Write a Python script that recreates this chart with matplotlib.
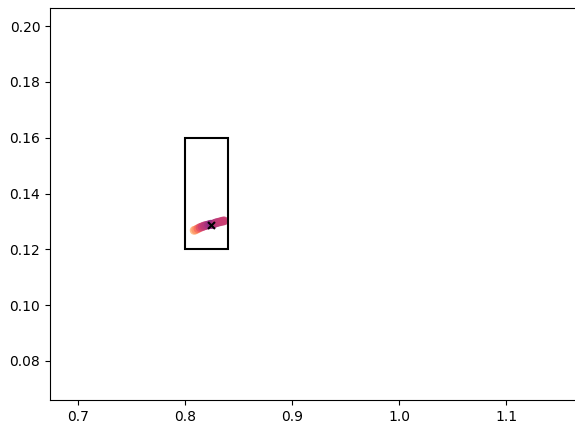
import matplotlib
matplotlib.use("Agg")
import matplotlib.pyplot as plt
from matplotlib.patches import Rectangle

# data points (x, y) and their colour values
pts_x = [0.8085, 0.8100, 0.8120, 0.8140, 0.8160, 0.8180, 0.8200, 0.8220, 0.8240, 0.8255, 0.8270, 0.8290, 0.8310, 0.8330, 0.8350, 0.8365]
pts_y = [0.1268, 0.1270, 0.1274, 0.1278, 0.1281, 0.1284, 0.1286, 0.1288, 0.1290, 0.1289, 0.1292, 0.1295, 0.1297, 0.1299, 0.1301, 0.1302]
pts_c = [0.85, 0.78, 0.70, 0.62, 0.56, 0.52, 0.50, 0.46, 0.42, 0.40, 0.44, 0.50, 0.52, 0.53, 0.54, 0.55]

mean_x = [0.8245]
mean_y = [0.1288]

box_x0, box_y0, box_w, box_h = 0.80, 0.12, 0.04, 0.04

xticks = [0.7, 0.8, 0.9, 1.0, 1.1]
yticks = [0.08, 0.10, 0.12, 0.14, 0.16, 0.18, 0.20]

fig = plt.figure(figsize=(5.75, 4.24), dpi=100)
ax = fig.add_axes([50/575, 24/424, 545/575, 392/424])

ax.scatter(pts_x, pts_y, c=pts_c, cmap="magma", vmin=0, vmax=1, s=40, alpha=0.9, edgecolors="none")
ax.scatter(mean_x, mean_y, marker="x", color="black", s=25, linewidths=1.5)
ax.add_patch(Rectangle((box_x0, box_y0), box_w, box_h, fill=False, edgecolor="black", linewidth=1.5))

ax.set_xlim(0.6738, 0.6738 + 545/1070)
ax.set_ylim(0.066, 0.2065)
ax.set_xticks(xticks)
ax.set_xticklabels(["0.7", "0.8", "0.9", "1.0", "1.1"])
ax.set_yticks(yticks)
ax.set_yticklabels(["0.08", "0.10", "0.12", "0.14", "0.16", "0.18", "0.20"])

fig.savefig("out.png", dpi=100)
